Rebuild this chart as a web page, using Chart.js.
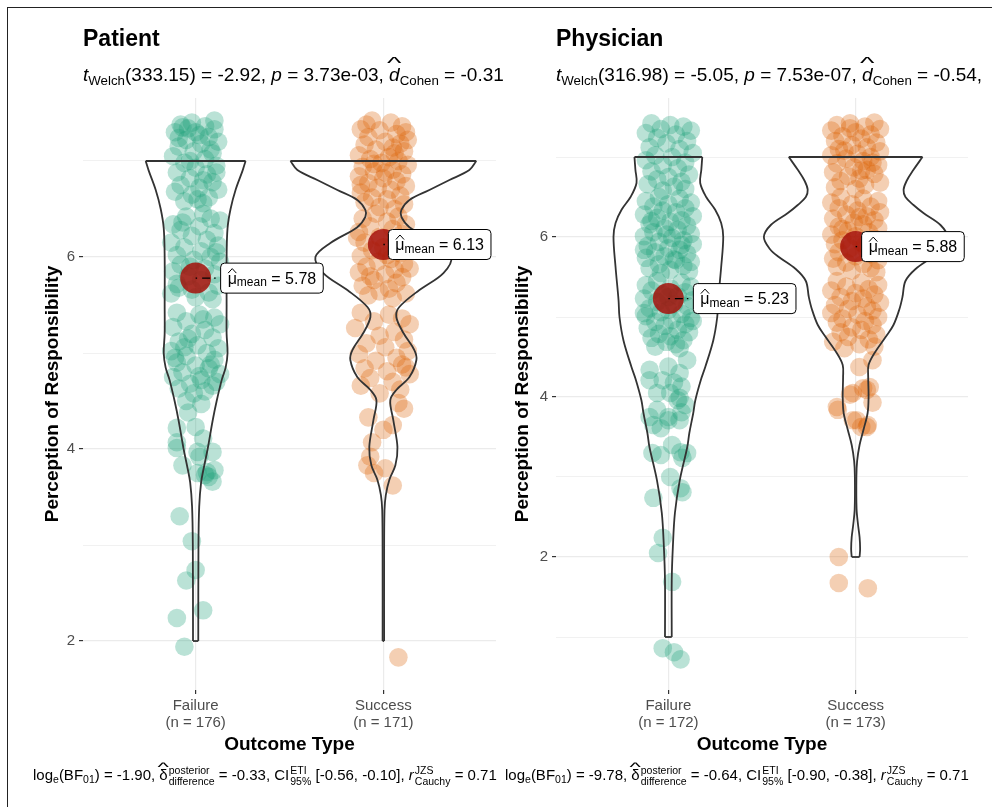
<!DOCTYPE html>
<html><head><meta charset="utf-8">
<script src="https://cdn.jsdelivr.net/npm/chart.js@4.4.1/dist/chart.umd.min.js"></script>
<style>
html,body{margin:0;padding:0;background:#fff;}
body{width:992px;height:807px;position:relative;overflow:hidden;font-family:'Liberation Sans',Arial,Helvetica,sans-serif;color:#000;}
.frame{position:absolute;left:7px;top:7px;width:1000px;height:820px;border-left:1px solid #222;border-top:1px solid #222;}
canvas{position:absolute;top:0;}
.title{position:absolute;font-weight:bold;font-size:23px;line-height:26px;white-space:nowrap;}
.sub{position:absolute;font-size:19px;line-height:22px;white-space:nowrap;}
.cap{position:absolute;font-size:15px;line-height:20px;white-space:nowrap;}
sub{font-size:0.7em;vertical-align:-0.3em;line-height:0;}
.hat{position:relative;display:inline-block;}
.hat::before{content:'^';position:absolute;left:0;right:0;top:-0.62em;text-align:center;transform:scaleX(1.8);font-style:normal;font-size:0.9em;}
.ss{display:inline-block;vertical-align:middle;font-size:10.5px;line-height:11px;margin-left:1px;}
.ss span{display:block;}
</style></head>
<body>
<div class="frame"></div>
<canvas id="c1" width="500" height="807" style="left:0px"></canvas>
<canvas id="c2" width="496" height="807" style="left:496px"></canvas>

<div class="title" style="left:83px;top:25px;">Patient</div>
<div class="sub" style="left:83px;top:64px;"><i>t</i><sub>Welch</sub>(333.15) = -2.92, <i>p</i> = 3.73e-03, <span class="hat"><i>d</i></span><sub>Cohen</sub> = -0.31</div>
<div class="title" style="left:556px;top:25px;">Physician</div>
<div class="sub" style="left:556px;top:64px;"><i>t</i><sub>Welch</sub>(316.98) = -5.05, <i>p</i> = 7.53e-07, <span class="hat"><i>d</i></span><sub>Cohen</sub> = -0.54,</div>

<div class="cap" style="left:33px;top:765px;">log<sub>e</sub>(BF<sub>01</sub>) = -1.90, <span class="hat">δ</span><span class="ss"><span>posterior</span><span>difference</span></span> = -0.33, CI<span class="ss"><span>ETI</span><span>95%</span></span> [-0.56, -0.10], <i>r</i><span class="ss"><span>JZS</span><span>Cauchy</span></span> = 0.71</div>
<div class="cap" style="left:505px;top:765px;">log<sub>e</sub>(BF<sub>01</sub>) = -9.78, <span class="hat">δ</span><span class="ss"><span>posterior</span><span>difference</span></span> = -0.64, CI<span class="ss"><span>ETI</span><span>95%</span></span> [-0.90, -0.38], <i>r</i><span class="ss"><span>JZS</span><span>Cauchy</span></span> = 0.71</div>

<script>
// ---------------- DATA ----------------
const categories = ['Failure', 'Success'];
const patientN = [176, 171];
const physicianN = [172, 173];
const patientMeans = [5.78, 6.13];
const physicianMeans = [5.23, 5.88];
const patientYTicks = [2, 3, 4, 5, 6, 7];
const physicianYTicks = [1, 2, 3, 4, 5, 6, 7];

// jittered points: [horizontal jitter (category units), value]
const patientFailurePts = [
[-0.08,7.38],[-0.02,7.40],[0.05,7.36],[0.10,7.33],[-0.11,7.30],[0.00,7.30],[0.07,7.25],[-0.05,7.22],[0.12,7.20],[-0.09,7.15],
[0.03,7.18],[-0.01,7.10],[0.09,7.08],[-0.12,7.05],[0.05,7.02],[-0.06,6.98],[0.11,6.95],[0.00,6.93],[-0.10,6.88],[0.06,6.86],
[-0.03,6.82],[0.09,6.78],[-0.08,6.75],[0.02,6.72],[0.12,6.70],[-0.11,6.68],[-0.02,6.65],[0.07,6.62],[-0.06,6.58],[0.04,6.56],
[0.10,7.42],[-0.04,7.34],[0.02,7.27],[-0.07,7.35],[0.08,7.12],[-0.03,7.00],[0.04,6.80],[-0.09,7.24],[0.11,6.88],[0.01,6.60],
[-0.05,6.42],[0.08,6.40],[0.13,6.38],[-0.12,6.34],[0.02,6.32],[-0.08,6.28],[0.10,6.25],[-0.02,6.22],[0.06,6.18],[-0.13,6.15],
[0.12,6.12],[-0.06,6.10],[0.03,6.06],[-0.10,6.02],[0.08,6.00],[-0.01,5.97],[0.13,5.95],[-0.08,5.92],[0.05,5.88],[-0.12,5.85],
[0.10,5.82],[-0.04,5.80],[0.03,5.76],[-0.10,5.72],[0.12,5.70],[-0.02,5.66],[0.07,5.63],[-0.13,5.62],[0.00,5.58],[0.09,5.56],
[-0.07,6.36],[0.04,6.45],[-0.03,5.90],[0.11,6.05],[-0.09,5.68],
[-0.10,5.42],[0.02,5.40],[0.10,5.37],[-0.05,5.33],[0.13,5.30],[-0.12,5.27],[0.05,5.24],[-0.02,5.20],[0.09,5.16],[-0.09,5.12],
[0.01,5.08],[0.12,5.05],[-0.13,5.02],[0.06,5.00],[-0.05,4.97],[0.10,4.93],[-0.10,4.90],[0.00,4.87],[0.07,4.84],[-0.07,4.80],
[0.13,4.78],[-0.12,4.75],[0.03,4.72],[-0.03,4.68],[0.09,4.66],[-0.09,4.63],[0.05,4.60],[-0.01,4.58],[0.11,4.70],[-0.06,5.06],
[0.04,5.35],[-0.11,4.95],[0.08,4.88],[0.02,4.76],[-0.04,5.15],
[-0.05,4.50],[0.03,4.47],[-0.04,4.38],[-0.10,4.22],[0.00,4.23],[-0.10,4.07],[0.04,4.11],[-0.10,4.01],[0.01,3.97],[0.09,3.97],
[-0.07,3.83],[0.02,3.92],[0.01,3.75],[0.05,3.73],[0.07,3.71],[0.09,3.66],[0.10,3.78],[0.06,3.76],
[-0.085,3.30],[-0.02,3.04],[0.00,2.74],[-0.05,2.63],[0.04,2.32],[-0.10,2.24],[-0.06,1.94]
];
const patientSuccessPts = [
[-0.06,7.42],[0.04,7.40],[0.10,7.36],[-0.12,7.33],[-0.02,7.32],[0.07,7.28],[-0.08,7.25],[0.13,7.22],[0.01,7.20],[-0.10,7.17],
[0.05,7.14],[-0.04,7.12],[0.11,7.10],[-0.13,7.06],[0.03,7.04],[-0.07,7.02],[0.08,7.00],[-0.01,6.98],[0.13,6.96],[-0.11,6.94],
[0.05,6.91],[-0.05,6.89],[0.10,6.86],[-0.13,6.84],[0.00,6.82],[0.07,6.79],[-0.08,6.77],[0.12,6.74],[-0.03,6.72],[0.04,6.70],
[-0.12,6.67],[0.09,6.64],[-0.06,6.62],[0.02,6.60],[-0.10,6.57],[0.11,6.55],[-0.02,6.52],[0.06,6.50],[-0.09,7.38],[0.09,7.18],
[-0.05,6.97],[0.01,6.88],[0.12,7.30],[-0.12,6.75],[0.06,7.08],
[-0.04,6.45],[0.08,6.42],[-0.11,6.40],[0.02,6.37],[0.12,6.34],[-0.07,6.32],[0.05,6.29],[-0.13,6.26],[0.10,6.24],[-0.02,6.21],
[0.07,6.18],[-0.10,6.15],[0.13,6.12],[0.00,6.10],[-0.06,6.07],[0.09,6.04],[-0.12,6.01],[0.04,5.98],[-0.03,5.95],[0.11,5.93],
[-0.09,5.90],[0.06,5.87],[-0.13,5.84],[0.01,5.82],[0.10,5.79],[-0.05,5.76],[0.07,5.73],[-0.11,5.70],[0.03,5.67],[-0.02,5.64],
[0.12,5.62],[-0.08,5.60],[0.05,5.57],[0.14,5.88],[-0.14,6.20],[0.02,6.02],[-0.07,5.80],
[-0.12,5.42],[0.03,5.40],[0.10,5.36],[-0.05,5.33],[0.14,5.30],[-0.15,5.26],[0.06,5.22],[-0.02,5.18],[0.11,5.14],[-0.09,5.10],
[0.01,5.06],[0.13,5.02],[-0.13,4.99],[0.07,4.95],[-0.04,4.92],[0.10,4.88],[-0.10,4.84],[0.02,4.81],[0.14,4.78],[-0.07,4.74],
[0.05,4.70],[-0.12,4.66],[0.09,4.62],[-0.02,4.58],[0.12,4.85],
[0.08,4.48],[0.11,4.42],[-0.08,4.33],[0.05,4.25],[0.00,4.20],[-0.06,4.07],[-0.07,3.92],[-0.085,3.83],[0.01,3.80],[-0.05,3.75],
[0.05,3.62],[0.08,1.83]
];
const physicianFailurePts = [
[-0.09,7.42],[0.01,7.40],[0.08,7.38],[-0.04,7.35],[0.12,7.33],[-0.12,7.30],[0.04,7.28],[-0.06,7.24],[0.10,7.20],[-0.01,7.17],
[-0.10,7.12],[0.06,7.10],[0.13,7.05],[-0.07,7.02],[0.02,7.00],[-0.12,6.96],[0.09,6.93],[-0.03,6.90],[0.05,6.86],[-0.09,6.82],
[0.11,6.78],[0.00,6.75],[-0.06,6.72],[0.07,6.69],[-0.11,6.66],[0.03,6.63],[0.09,6.60],[-0.03,6.58],
[-0.05,6.50],[0.06,6.48],[-0.12,6.45],[0.12,6.43],[0.00,6.41],[-0.08,6.38],[0.09,6.36],[-0.03,6.33],[0.04,6.31],[-0.13,6.28],
[0.13,6.26],[-0.06,6.24],[0.07,6.21],[0.01,6.19],[-0.10,6.16],[0.10,6.14],[-0.02,6.11],[0.05,6.09],[-0.08,6.06],[0.12,6.04],
[-0.13,6.01],[0.02,5.99],[0.08,5.96],[-0.05,5.94],[0.13,5.91],[-0.11,5.89],[0.00,5.86],[0.06,5.84],[-0.07,5.81],[0.10,5.79],
[-0.02,5.76],[-0.12,5.74],[0.04,5.71],[0.12,5.69],[-0.05,5.66],[0.08,5.64],[-0.10,5.61],[0.01,5.59],[0.11,5.57],[-0.04,5.55],
[-0.09,6.20],[0.07,5.90],[-0.01,6.03],[0.03,5.72],[-0.13,5.84],
[-0.06,5.45],[0.07,5.43],[-0.12,5.40],[0.12,5.38],[0.01,5.36],[-0.09,5.33],[0.09,5.31],[-0.03,5.28],[0.05,5.26],[-0.13,5.23],
[0.13,5.21],[-0.06,5.19],[0.03,5.16],[0.10,5.14],[-0.10,5.11],[0.00,5.09],[-0.04,5.06],[0.07,5.04],[-0.12,5.01],[0.12,4.99],
[0.02,4.96],[-0.07,4.94],[0.09,4.91],[-0.02,4.89],[-0.11,4.86],[0.05,4.84],[0.11,4.81],[-0.05,4.79],[0.01,4.76],[-0.09,4.74],
[0.08,4.71],[-0.01,4.69],[0.04,4.66],[-0.07,4.63],[0.06,4.61],[-0.13,5.05],[0.13,4.95],[0.00,5.25],
[-0.10,4.34],[0.00,4.38],[0.06,4.30],[0.10,4.46],[-0.10,4.21],[-0.03,4.21],[0.03,4.18],[0.07,4.13],[-0.06,4.05],[0.01,4.05],
[0.06,3.99],[0.05,3.96],[0.09,3.90],[0.07,3.81],[-0.06,3.84],[0.00,3.75],[-0.10,3.75],[0.06,3.71],[0.00,3.71],[-0.08,3.65],
[-0.04,3.61],
[-0.085,3.30],[-0.04,3.275],[0.065,3.31],[0.10,3.30],[0.075,3.24],[0.02,3.40],[0.01,3.00],[0.065,2.86],[0.075,2.81],[-0.08,2.74],
[-0.03,2.24],[-0.055,2.05],[0.02,1.69],[-0.03,0.86],[0.03,0.81],[0.065,0.72]
];
const physicianSuccessPts = [
[-0.10,7.40],[-0.03,7.42],[0.05,7.38],[0.10,7.43],[0.13,7.35],[-0.13,7.33],[0.00,7.31],[0.08,7.28],[-0.07,7.26],[0.03,7.23],
[-0.11,7.20],[0.11,7.18],[-0.02,7.15],[0.06,7.12],[-0.09,7.10],[0.13,7.07],[0.01,7.04],[-0.13,7.02],[0.08,7.00],[-0.05,6.98],
[0.04,6.95],[-0.10,6.92],[0.12,6.90],[-0.01,6.87],[0.06,6.84],[-0.12,6.81],[0.10,6.79],[-0.04,6.76],[0.02,6.73],[-0.08,6.70],
[0.13,6.68],[0.05,6.65],[-0.11,6.62],[0.00,6.60],[0.09,6.93],[-0.06,7.08],[0.03,6.83],[-0.03,7.36],
[-0.08,6.50],[0.04,6.48],[0.12,6.45],[-0.13,6.43],[-0.02,6.41],[0.08,6.38],[-0.09,6.36],[0.01,6.33],[0.13,6.31],[-0.05,6.28],
[0.06,6.26],[-0.12,6.23],[0.10,6.21],[-0.01,6.18],[0.04,6.16],[-0.09,6.13],[0.12,6.11],[-0.04,6.08],[0.07,6.06],[-0.13,6.03],
[0.00,6.01],[0.10,5.98],[-0.07,5.96],[0.03,5.93],[-0.11,5.91],[0.13,5.88],[-0.03,5.86],[0.06,5.83],[-0.09,5.81],[0.09,5.78],
[0.00,5.76],[-0.12,5.73],[0.12,5.71],[-0.05,5.68],[0.04,5.66],[-0.10,5.63],[0.08,5.61],[-0.02,5.58],[0.11,5.56],[-0.07,6.10],
[0.05,5.90],[0.02,6.25],
[-0.10,5.45],[0.03,5.43],[0.12,5.40],[-0.05,5.38],[0.07,5.35],[-0.13,5.33],[0.00,5.30],[0.10,5.28],[-0.08,5.25],[0.04,5.23],
[-0.02,5.20],[0.13,5.18],[-0.11,5.15],[0.06,5.13],[-0.04,5.10],[0.09,5.08],[-0.13,5.05],[0.01,5.03],[0.12,5.00],[-0.07,4.98],
[0.05,4.95],[-0.10,4.93],[0.09,4.90],[-0.02,4.87],[0.03,4.84],[-0.08,4.81],[0.11,4.78],[-0.04,4.75],[0.07,4.72],[-0.12,4.69],
[0.02,4.66],[0.10,4.63],[-0.06,4.61],
[0.09,4.46],[0.02,4.375],[0.04,4.11],[0.075,4.125],[0.06,4.09],[-0.015,4.05],[-0.03,4.03],[0.09,3.93],[-0.10,3.875],[-0.095,3.84],
[0.005,3.71],[-0.015,3.71],[0.065,3.65],[0.06,3.625],[0.03,3.625],
[-0.09,2.0],[-0.09,1.675],[0.065,1.61]
];

// violin outlines: values (ascending) and half-widths (category units)
const patientFailureViolinY = [2.0,3.0,3.4,3.65,3.8,4.0,4.3,4.5,4.72,4.85,5.0,5.2,5.5,6.0,6.3,6.5,6.7,6.9,7.0];
const patientFailureViolinW = [0.014,0.015,0.019,0.029,0.043,0.064,0.091,0.112,0.139,0.160,0.170,0.165,0.165,0.165,0.170,0.186,0.213,0.250,0.266];
const patientSuccessViolinY = [2.0,2.84,3.36,3.52,3.68,3.83,4.02,4.30,4.51,4.615,4.75,4.927,5.031,5.208,5.375,5.479,5.656,5.833,6.0,6.146,6.31,6.417,6.49,6.594,6.698,6.802,6.906,7.0];
const patientSuccessViolinW = [0.004,0.004,0.006,0.013,0.032,0.064,0.075,0.053,0.037,0.069,0.139,0.176,0.165,0.107,0.069,0.085,0.192,0.320,0.362,0.282,0.139,0.096,0.096,0.139,0.245,0.352,0.458,0.495];
const physicianFailureViolinY = [1.0,1.71,2.125,2.55,2.96,3.375,3.55,3.8,3.96,4.21,4.375,4.71,5.0,5.21,5.625,6.0,6.175,6.34,6.5,6.675,6.84,7.0];
const physicianFailureViolinW = [0.018,0.018,0.024,0.035,0.061,0.101,0.112,0.133,0.144,0.173,0.197,0.240,0.261,0.266,0.282,0.293,0.282,0.250,0.202,0.170,0.176,0.181];
const physicianSuccessViolinY = [2.0,2.1,2.25,2.4,2.6,3.0,3.2,3.4,3.6,3.8,4.0,4.25,4.4,4.55,4.75,4.9,5.1,5.25,5.45,5.6,5.75,5.85,6.0,6.15,6.3,6.4,6.5,6.59,6.7,6.84,7.0];
const physicianSuccessViolinW = [0.021,0.024,0.021,0.013,0.005,0.004,0.008,0.021,0.043,0.064,0.069,0.067,0.069,0.101,0.160,0.202,0.234,0.250,0.266,0.320,0.410,0.458,0.490,0.453,0.362,0.309,0.266,0.256,0.272,0.309,0.357];

// ---------------- STYLE ----------------
const FONT = "'Liberation Sans', Arial, Helvetica, sans-serif";
Chart.defaults.font.family = FONT;
const pointColors = ['rgba(27,158,119,0.30)', 'rgba(217,95,2,0.30)'];
const meanColor = 'rgba(165,18,10,0.85)';

function violinDatasets(cat, ys, ws) {
  const n = ys.length;
  const left = ys.map((y, i) => ({x: cat - ws[i], y}));
  const right = ys.map((y, i) => ({x: cat + ws[i], y}));
  const top = [{x: cat - ws[n-1], y: ys[n-1]}, {x: cat + ws[n-1], y: ys[n-1]}];
  const bot = [{x: cat - ws[0], y: ys[0]}, {x: cat + ws[0], y: ys[0]}];
  return [left, right, top, bot].map((d, k) => ({
    type: 'scatter', data: d, showLine: true, pointRadius: 0, pointHoverRadius: 0,
    borderColor: '#333333', borderWidth: 1.8, tension: k < 2 ? 0.35 : 0, fill: false, order: 2
  }));
}

const meanLabelPlugin = {
  id: 'meanLabels',
  afterDatasetsDraw(chart, args, opts) {
    const {ctx} = chart;
    const xs = chart.scales.x, ys = chart.scales.y;
    opts.means.forEach((m, i) => {
      const cx = xs.getPixelForValue(i + 1), cy = ys.getPixelForValue(m);
      const bx = cx + opts.offsets[i];
      ctx.save();
      const big = '16px ' + FONT, small = '12px ' + FONT;
      ctx.font = big; const wMu = ctx.measureText('μ').width;
      const valTxt = ' = ' + m.toFixed(2); const wVal = ctx.measureText(valTxt).width;
      ctx.font = small; const wSub = ctx.measureText('mean').width;
      const padX = 7, h = 30, w = padX * 2 + wMu + wSub + wVal;
      ctx.strokeStyle = '#000'; ctx.lineWidth = 1.4;
      ctx.setLineDash([1.5, 5, 8, 4]);
      ctx.beginPath(); ctx.moveTo(cx, cy); ctx.lineTo(bx, cy); ctx.stroke();
      ctx.setLineDash([]);
      const by = cy - h / 2, r = 4;
      ctx.beginPath();
      ctx.moveTo(bx + r, by); ctx.lineTo(bx + w - r, by); ctx.arcTo(bx + w, by, bx + w, by + r, r);
      ctx.lineTo(bx + w, by + h - r); ctx.arcTo(bx + w, by + h, bx + w - r, by + h, r);
      ctx.lineTo(bx + r, by + h); ctx.arcTo(bx, by + h, bx, by + h - r, r);
      ctx.lineTo(bx, by + r); ctx.arcTo(bx, by, bx + r, by, r); ctx.closePath();
      ctx.fillStyle = '#fff'; ctx.fill();
      ctx.strokeStyle = '#000'; ctx.lineWidth = 1; ctx.stroke();
      ctx.fillStyle = '#000'; ctx.textBaseline = 'alphabetic'; ctx.textAlign = 'left';
      let tx = bx + padX; const base = cy + 5.5;
      ctx.font = big; ctx.fillText('μ', tx, base);
      ctx.beginPath(); ctx.lineWidth = 1;
      ctx.moveTo(tx + 0.5, cy - 5); ctx.lineTo(tx + wMu / 2, cy - 9.5); ctx.lineTo(tx + wMu - 0.5, cy - 5); ctx.stroke();
      tx += wMu;
      ctx.font = small; ctx.fillText('mean', tx, base + 2.5);
      tx += wSub;
      ctx.font = big; ctx.fillText(valTxt, tx, base);
      ctx.restore();
    });
  }
};

function buildPanel(id, o) {
  const datasets = [];
  o.points.forEach((pts, i) => {
    datasets.push({
      type: 'scatter', data: pts.map(p => ({x: i + 1 + p[0], y: p[1]})),
      pointRadius: 9.3, pointHoverRadius: 9.3, backgroundColor: pointColors[i],
      borderColor: 'rgba(0,0,0,0)', borderWidth: 0, order: 3
    });
  });
  o.violins.forEach((v, i) => datasets.push(...violinDatasets(i + 1, v[0], v[1])));
  datasets.push({
    type: 'scatter', data: o.means.map((m, i) => ({x: i + 1, y: m})),
    pointRadius: 15.5, pointHoverRadius: 15.5, backgroundColor: meanColor,
    borderColor: 'rgba(0,0,0,0)', borderWidth: 0, order: 1
  });
  new Chart(document.getElementById(id), {
    type: 'scatter',
    data: {datasets},
    options: {
      responsive: false, animation: false, events: [],
      layout: {autoPadding: false, padding: {top: 98, left: o.padL, right: o.padR, bottom: 40}},
      plugins: {legend: {display: false}, tooltip: {enabled: false},
        meanLabels: {means: o.means, offsets: o.offsets}},
      scales: {
        x: {
          type: 'linear', min: 0.4, max: 2.6,
          afterBuildTicks: s => { s.ticks = categories.map((c, i) => ({value: i + 1})); },
          afterFit: s => { s.height = 77; s.paddingLeft = 0; s.paddingRight = 0; },
          ticks: {
            callback: (v) => [categories[Math.round(v) - 1], '(n = ' + o.n[Math.round(v) - 1] + ')'],
            color: '#4D4D4D', font: {size: 15, lineHeight: 1.1}, padding: 4, autoSkip: false, maxRotation: 0
          },
          grid: {color: '#EBEBEB', lineWidth: 1.2, tickColor: '#333333', tickLength: 4, tickWidth: 1.2},
          border: {display: false},
          title: {display: true, text: 'Outcome Type', color: '#000', font: {size: 19, weight: 'bold'}, padding: {top: 0, bottom: 11}}
        },
        y: {
          type: 'linear', min: o.yMin, max: o.yMax,
          afterBuildTicks: s => { s.ticks = o.yTicks.map(v => ({value: v})); },
          afterFit: s => { s.width = o.yW; s.paddingTop = 0; s.paddingBottom = 0; },
          ticks: {
            callback: v => (v % 2 === 0 ? String(v) : ''),
            color: '#4D4D4D', font: {size: 15}, padding: 4
          },
          grid: {
            color: '#EBEBEB',
            lineWidth: c => (c.tick && c.tick.value % 2 === 0) ? 1.2 : 0.7,
            tickColor: c => (c.tick && c.tick.value % 2 === 0) ? '#333333' : 'rgba(0,0,0,0)',
            tickLength: 4, tickWidth: 1.2
          },
          border: {display: false},
          title: {display: true, text: 'Perception of Responsibility', color: '#000', font: {size: 19, weight: 'bold'}, padding: {top: o.yTitlePad, bottom: 0}}
        }
      }
    },
    plugins: [meanLabelPlugin]
  });
}

buildPanel('c1', {
  n: patientN, means: patientMeans, yTicks: patientYTicks, yMin: 1.49, yMax: 7.656,
  points: [patientFailurePts, patientSuccessPts],
  violins: [[patientFailureViolinY, patientFailureViolinW], [patientSuccessViolinY, patientSuccessViolinW]],
  offsets: [25, 5], padL: 30, padR: 4, yW: 53, yTitlePad: 11
});
buildPanel('c2', {
  n: physicianN, means: physicianMeans, yTicks: physicianYTicks, yMin: 0.3375, yMax: 7.7375,
  points: [physicianFailurePts, physicianSuccessPts],
  violins: [[physicianFailureViolinY, physicianFailureViolinW], [physicianSuccessViolinY, physicianSuccessViolinW]],
  offsets: [25, 6], padL: 6, padR: 24, yW: 54, yTitlePad: 9
});
</script>
</body></html>
